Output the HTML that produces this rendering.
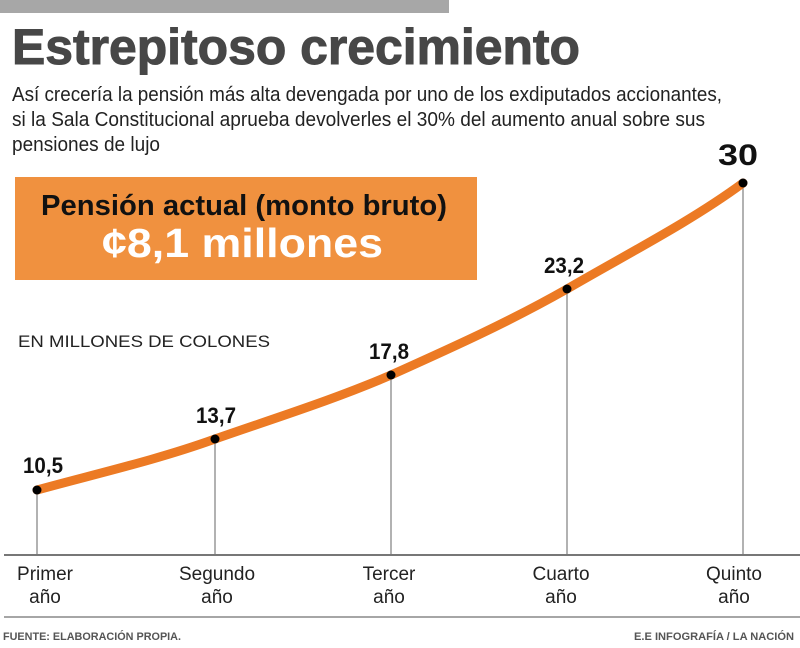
<!DOCTYPE html>
<html><head><meta charset="utf-8"><style>body{margin:0;background:#fff}svg{display:block}</style></head><body>
<svg width="800" height="648" viewBox="0 0 800 648" xmlns="http://www.w3.org/2000/svg" font-family="Liberation Sans, sans-serif">
<rect x="0" y="0" width="449" height="13" fill="#a7a7a7"/>
<text x="12" y="64" font-size="50" font-weight="bold" fill="#474747" stroke="#474747" stroke-width="1" textLength="568" lengthAdjust="spacingAndGlyphs">Estrepitoso crecimiento</text>
<g font-size="20" fill="#222">
<text x="12" y="101" textLength="710" lengthAdjust="spacingAndGlyphs">Así crecería la pensión más alta devengada por uno de los exdiputados accionantes,</text>
<text x="12" y="126" textLength="693" lengthAdjust="spacingAndGlyphs">si la Sala Constitucional aprueba devolverles el 30% del aumento anual sobre sus</text>
<text x="12" y="151" textLength="148" lengthAdjust="spacingAndGlyphs">pensiones de lujo</text>
</g>
<rect x="15" y="177" width="462" height="103" fill="#f0913f"/>
<text x="41" y="215" font-size="29" font-weight="bold" fill="#111" textLength="406" lengthAdjust="spacingAndGlyphs">Pensión actual (monto bruto)</text>
<text x="102" y="257" font-size="41" font-weight="bold" fill="#fff" textLength="281" lengthAdjust="spacingAndGlyphs">¢8,1 millones</text>
<text x="18" y="347" font-size="17" fill="#222" textLength="252" lengthAdjust="spacingAndGlyphs">EN MILLONES DE COLONES</text>
<g stroke="#666" stroke-width="1">
<line x1="37" y1="490" x2="37" y2="554"/><line x1="215" y1="439" x2="215" y2="554"/>
<line x1="391" y1="375" x2="391" y2="554"/><line x1="567" y1="289" x2="567" y2="554"/>
<line x1="743" y1="183" x2="743" y2="554"/>
</g>
<line x1="4" y1="555" x2="800" y2="555" stroke="#777" stroke-width="2"/>
<path d="M37,490 C95,474 157,460 215,439 C275,418 333,400 391,375 C451,348 509,322 567,289 C627,254 690,222 743,183" fill="none" stroke="#ec7a24" stroke-width="9" stroke-linecap="round"/>
<g fill="#000"><circle cx="37" cy="490" r="4.5"/><circle cx="215" cy="439" r="4.5"/><circle cx="391" cy="375" r="4.5"/><circle cx="567" cy="289" r="4.5"/><circle cx="743" cy="183" r="4.5"/></g>
<g font-weight="bold" fill="#111" text-anchor="middle">
<text x="43" y="473" font-size="22" textLength="40" lengthAdjust="spacingAndGlyphs">10,5</text>
<text x="216" y="423" font-size="22" textLength="40" lengthAdjust="spacingAndGlyphs">13,7</text>
<text x="389" y="359" font-size="22" textLength="40" lengthAdjust="spacingAndGlyphs">17,8</text>
<text x="564" y="273" font-size="22" textLength="40" lengthAdjust="spacingAndGlyphs">23,2</text>
<text x="738" y="165" font-size="30" textLength="40" lengthAdjust="spacingAndGlyphs">30</text>
</g>
<g font-size="19" fill="#222" text-anchor="middle">
<text x="45" y="580">Primer</text><text x="45" y="603">año</text>
<text x="217" y="580">Segundo</text><text x="217" y="603">año</text>
<text x="389" y="580">Tercer</text><text x="389" y="603">año</text>
<text x="561" y="580">Cuarto</text><text x="561" y="603">año</text>
<text x="734" y="580">Quinto</text><text x="734" y="603">año</text>
</g>
<line x1="4" y1="617" x2="800" y2="617" stroke="#888" stroke-width="1.5"/>
<text x="3" y="640" font-size="11" font-weight="bold" fill="#555" textLength="178" lengthAdjust="spacingAndGlyphs">FUENTE: ELABORACIÓN PROPIA.</text>
<text x="634" y="640" font-size="11" font-weight="bold" fill="#555" textLength="160" lengthAdjust="spacingAndGlyphs">E.E INFOGRAFÍA / LA NACIÓN</text>
</svg>
</body></html>
